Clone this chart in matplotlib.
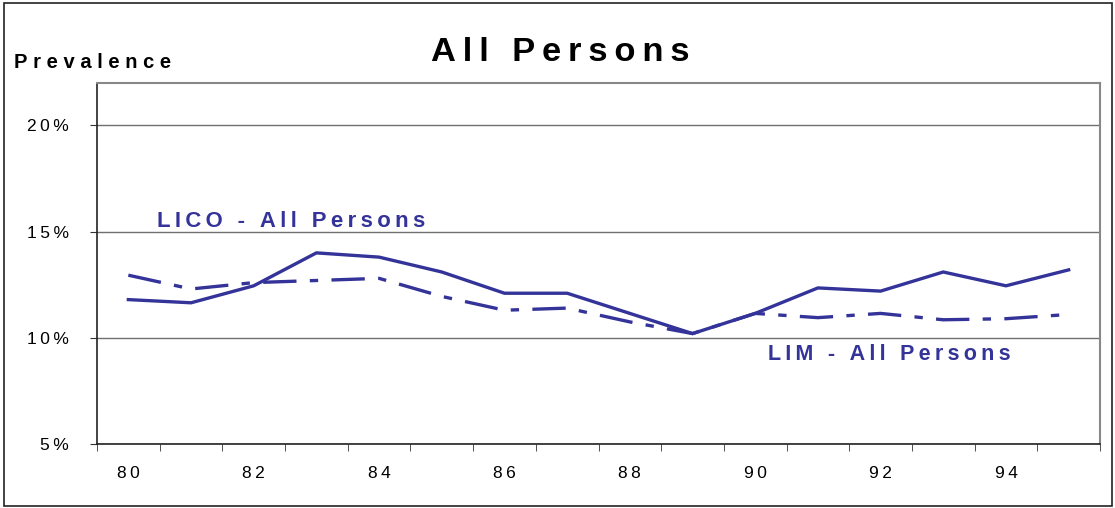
import numpy as np
import matplotlib
matplotlib.use("Agg")
import matplotlib.pyplot as plt
from matplotlib.patches import Rectangle

plt.rcParams['font.family'] = ['Liberation Sans', 'DejaVu Sans']

# survey years (two-digit) and prevalence rates in percent
years = ['80', '81', '82', '83', '84', '85', '86', '87',
         '88', '89', '90', '91', '92', '93', '94', '95']
lico = [11.8, 11.65, 12.45, 14.0, 13.8, 13.1, 12.1, 12.1,
        11.15, 10.2, 11.15, 12.35, 12.2, 13.1, 12.45, 13.2]
lim = [12.95, 12.3, 12.6, 12.7, 12.8, 11.95, 11.3, 11.4,
       10.75, 10.2, 11.15, 10.95, 11.15, 10.85, 10.9, 11.1]
y_ticks = [5, 10, 15, 20]
y_tick_labels = ['5%', '10%', '15%', '20%']

navy = '#333399'
THIN = '\u2009'
HAIR = '\u200a'


def spaced(s, sep=THIN):
    # crude letter spacing: thin space between every character
    return sep.join(s)


fig = plt.figure(figsize=(11.15, 5.08), dpi=100)
W, H = 1115, 508
ax = fig.add_axes([97 / W, (H - 444) / H, 1003 / W, (444 - 83) / H])

x = np.arange(len(years))
ax.plot(x, lico, color=navy, lw=2.4, solid_joinstyle='miter')
ax.plot(x, lim, color=navy, lw=2.4, dashes=(10, 4, 2.5, 4))

ax.set_xlim(-0.5, len(years) - 0.5)
ax.set_ylim(5, 22)

# category axis: labels every other year, tick marks between categories
ax.set_xticks(x[::2])
ax.set_xticklabels([spaced(y) for y in years[::2]])
ax.set_xticks(np.arange(-0.5, len(years)), minor=True)
ax.tick_params(axis='x', which='major', length=0, pad=15.5, labelsize=12.5)
ax.tick_params(axis='x', which='minor', length=5, direction='out', color='#333333')

ax.set_yticks(y_ticks)
ax.set_yticklabels([spaced(t) for t in y_tick_labels])
ax.tick_params(axis='y', length=5, direction='out', pad=15, labelsize=12.5, color='#333333')

ax.grid(axis='y', color='#707070', lw=1.0)
ax.set_axisbelow(True)
for side in ['left', 'bottom']:
    ax.spines[side].set_color('#222222')
    ax.spines[side].set_linewidth(1.2)
for side in ['top', 'right']:
    ax.spines[side].set_color('#888888')
    ax.spines[side].set_linewidth(1.5)

ax.text(0.46, 15.2, spaced('LICO - All Persons'), color=navy, fontsize=15.9,
        fontweight='bold', va='baseline', ha='left')
ax.text(10.2, 8.97, spaced('LIM - All Persons'), color=navy, fontsize=15.5,
        fontweight='bold', va='baseline', ha='left')

fig.text(560 / W, (H - 61) / H, spaced('All Persons'), fontsize=24.8,
         fontweight='bold', ha='center', va='baseline')
fig.text(14 / W, (H - 68) / H, spaced('Prevalence', THIN + HAIR), fontsize=14.5,
         fontweight='bold', ha='left', va='baseline')

# border around the whole chart
fig.patches.append(Rectangle((4 / W, 2 / H), 1108 / W, 503 / H, transform=fig.transFigure,
                             fill=False, edgecolor='#222222', lw=1.2))

fig.savefig('out.png', dpi=100)
